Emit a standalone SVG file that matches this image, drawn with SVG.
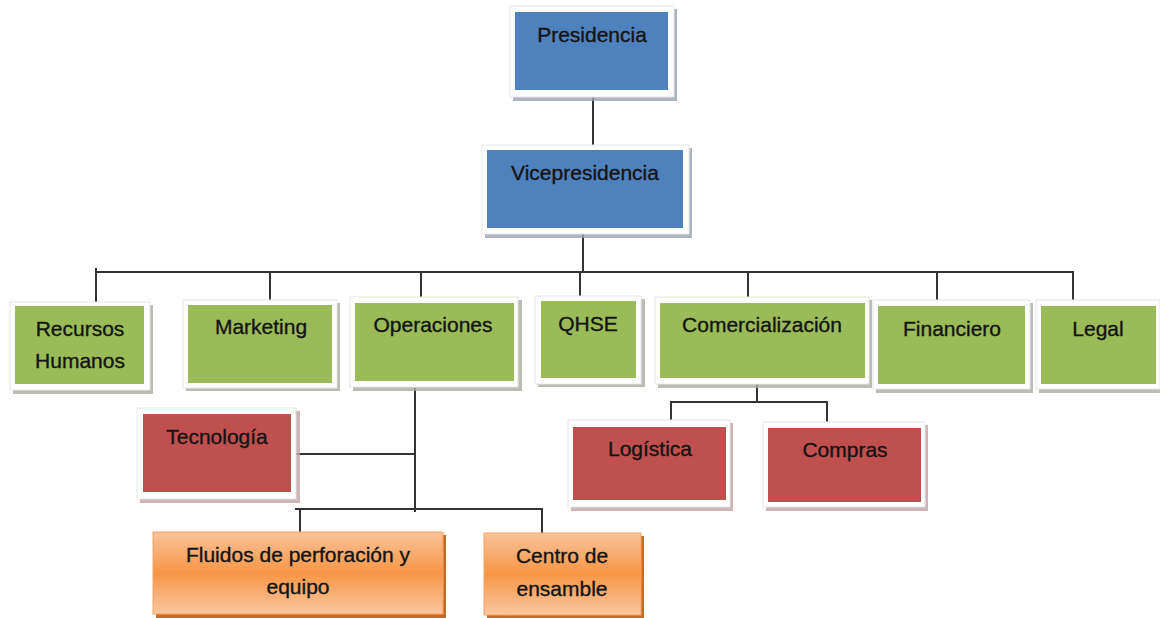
<svg xmlns="http://www.w3.org/2000/svg" width="1160" height="618" viewBox="0 0 1160 618">
<defs>
<linearGradient id="og" x1="0" y1="0" x2="0" y2="1">
<stop offset="0" stop-color="#f9c39a"/>
<stop offset="0.5" stop-color="#f79646"/>
<stop offset="1" stop-color="#f9c7a0"/>
</linearGradient>
</defs>
<style>
.sh{fill:#a9ad9f;opacity:0.8}
.shb{fill:#9aa3b3;opacity:0.8}
.shr{fill:#bfa3a3;opacity:0.8}
.fr{fill:#ffffff;stroke:#e6e6e6;stroke-width:1}
.blue{fill:#4f81bd}
.green{fill:#9bbb59}
.red{fill:#c0504d}
.orange{fill:url(#og);stroke:#f4a46a;stroke-width:1}
.osh{fill:#c86a24}
.t{font-family:"Liberation Sans",Arial,sans-serif;font-size:21px;fill:#141414;stroke:#141414;stroke-width:0.35;text-anchor:middle}
.c{fill:none;stroke:#333;stroke-width:2}
</style>
<rect width="1160" height="618" fill="#ffffff"/>
<g id="connectors">
<path class="c" d="M593 92V150"/>
<path class="c" d="M583 230V272"/>
<path class="c" d="M96 268V302M95 272H1073V300"/>
<path class="c" d="M270 272V302M421 272V299M580 272V300M748 272V299M937 272V302"/>
<path class="c" d="M415 382V512M295 454H415M295 509H542V534M300 509V534"/>
<path class="c" d="M757 378V402M670 402H827V430M671 402V427"/>
</g>
<g id="presidencia">
<rect class="shb" x="513" y="9" width="164" height="92"/>
<rect class="fr" x="510" y="6" width="164" height="91"/>
<rect class="blue" x="515" y="12" width="153" height="78"/>
<text class="t" x="592" y="42">Presidencia</text>
</g>
<g id="vicepresidencia">
<rect class="shb" x="485" y="148" width="207" height="90"/>
<rect class="fr" x="482" y="145" width="207" height="89"/>
<rect class="blue" x="487" y="150" width="196" height="78"/>
<text class="t" x="585" y="180">Vicepresidencia</text>
</g>
<g id="recursos-humanos">
<rect class="sh" x="13" y="305" width="140" height="89"/>
<rect class="fr" x="10" y="302" width="140" height="88"/>
<rect class="green" x="15" y="306" width="129" height="78"/>
<text class="t" x="80" y="336">Recursos</text>
<text class="t" x="80" y="368">Humanos</text>
</g>
<g id="marketing">
<rect class="sh" x="186" y="303" width="154" height="88"/>
<rect class="fr" x="183" y="300" width="154" height="88"/>
<rect class="green" x="188" y="305" width="144" height="78"/>
<text class="t" x="261" y="334">Marketing</text>
</g>
<g id="operaciones">
<rect class="sh" x="353" y="300" width="169" height="91"/>
<rect class="fr" x="350" y="297" width="168" height="90"/>
<rect class="green" x="355" y="303" width="159" height="78"/>
<text class="t" x="433" y="332">Operaciones</text>
</g>
<g id="qhse">
<rect class="sh" x="538" y="299" width="107" height="88"/>
<rect class="fr" x="535" y="296" width="106" height="88"/>
<rect class="green" x="541" y="301" width="95" height="77"/>
<text class="t" x="588" y="331">QHSE</text>
</g>
<g id="comercializacion">
<rect class="sh" x="658" y="300" width="214" height="88"/>
<rect class="fr" x="655" y="297" width="214" height="87"/>
<rect class="green" x="660" y="303" width="205" height="75"/>
<text class="t" x="762" y="332">Comercialización</text>
</g>
<g id="financiero">
<rect class="sh" x="876" y="303" width="157" height="90"/>
<rect class="fr" x="873" y="300" width="157" height="89"/>
<rect class="green" x="878" y="306" width="147" height="78"/>
<text class="t" x="952" y="336">Financiero</text>
</g>
<g id="legal">
<rect class="sh" x="1039" y="303" width="121" height="90"/>
<rect class="fr" x="1036" y="300" width="124" height="89"/>
<rect class="green" x="1041" y="306" width="115" height="78"/>
<text class="t" x="1098" y="336">Legal</text>
</g>
<g id="tecnologia">
<rect class="shr" x="140" y="411" width="160" height="92"/>
<rect class="fr" x="137" y="408" width="159" height="91"/>
<rect class="red" x="143" y="414" width="148" height="78"/>
<text class="t" x="217" y="444">Tecnología</text>
</g>
<g id="logistica">
<rect class="shr" x="571" y="423" width="162" height="88"/>
<rect class="fr" x="568" y="420" width="162" height="87"/>
<rect class="red" x="573" y="427" width="153" height="73"/>
<text class="t" x="650" y="456">Logística</text>
</g>
<g id="compras">
<rect class="shr" x="766" y="425" width="162" height="86"/>
<rect class="fr" x="763" y="422" width="162" height="85"/>
<rect class="red" x="768" y="428" width="153" height="74"/>
<text class="t" x="845" y="457">Compras</text>
</g>
<g id="fluidos">
<rect class="osh" x="156" y="535" width="290" height="83"/>
<rect class="orange" x="153" y="532" width="290" height="82"/>
<text class="t" x="298" y="562">Fluidos de perforación y</text>
<text class="t" x="298" y="594">equipo</text>
</g>
<g id="centro-ensamble">
<rect class="osh" x="487" y="536" width="157" height="82"/>
<rect class="orange" x="484" y="533" width="157" height="82"/>
<text class="t" x="562" y="563">Centro de</text>
<text class="t" x="562" y="596">ensamble</text>
</g>
</svg>
